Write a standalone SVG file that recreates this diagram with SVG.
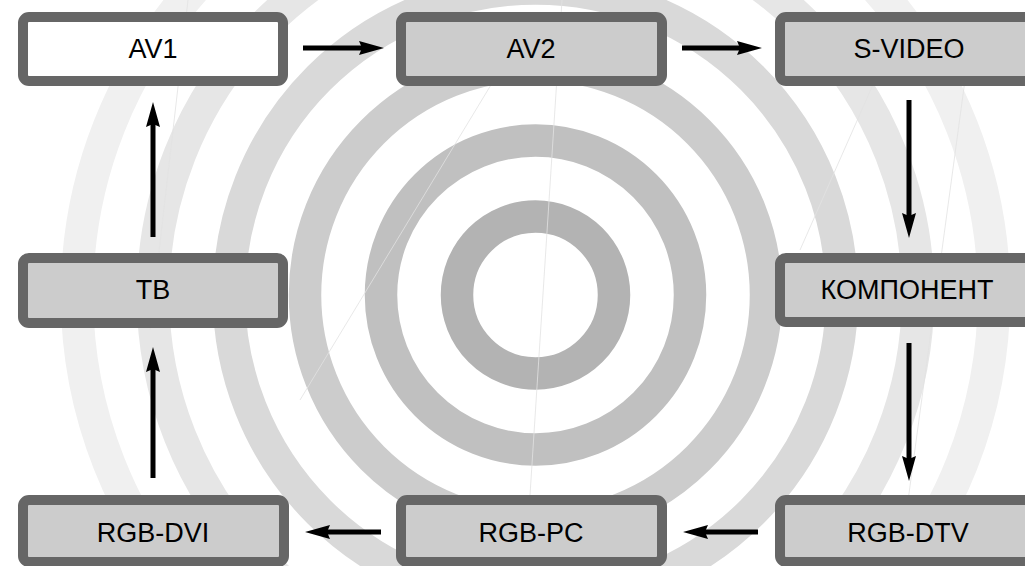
<svg xmlns="http://www.w3.org/2000/svg" width="1025" height="566" viewBox="0 0 1025 566">
  <style>
    .ring { fill: none; stroke-width: 32.5; }
    .seam { stroke: #e2e2e2; stroke-width: 0.8; fill: none; }
    .box { fill: #cccccc; stroke: #666666; stroke-width: 10; }
    .box.white { fill: #ffffff; }
    .lbl { font-family: "Liberation Sans", Arial, sans-serif; font-size: 27px; fill: #000000; text-anchor: middle; }
    .arrow { stroke: #000000; stroke-width: 5; fill: none; marker-end: url(#head); }
  </style>
  <defs>
    <marker id="head" viewBox="0 0 25 14" refX="3" refY="7" markerWidth="25" markerHeight="14" markerUnits="userSpaceOnUse" orient="auto">
      <path d="M0,0 L25,7 L0,14 L3,7 Z" fill="#000000"/>
    </marker>
  </defs>
  <rect x="0" y="0" width="1025" height="566" fill="#ffffff"/>
  <g id="background">
    <circle class="ring" cx="535.5" cy="295" r="458.5" stroke="#f0f0f0"/>
    <circle class="ring" cx="535.5" cy="295" r="382.5" stroke="#e6e6e6"/>
    <circle class="ring" cx="535.5" cy="295" r="306.5" stroke="#d9d9d9"/>
    <circle class="ring" cx="535.5" cy="295" r="230.5" stroke="#cccccc"/>
    <circle class="ring" cx="535.5" cy="295" r="154.5" stroke="#c0c0c0"/>
    <circle class="ring" cx="535.5" cy="295" r="78.5" stroke="#b3b3b3"/>
    <line class="seam" x1="562" y1="0" x2="530" y2="495"/>
    <line class="seam" x1="500" y1="70" x2="300" y2="400"/>
    <line class="seam" x1="188" y1="0" x2="150" y2="330"/>
    <line class="seam" x1="875" y1="80" x2="800" y2="250"/>
    <line class="seam" x1="965" y1="80" x2="900" y2="560"/>
  </g>
  <g id="connectors">
    <line class="arrow" x1="303" y1="48" x2="362" y2="48"/>
    <line class="arrow" x1="682" y1="48" x2="740" y2="48"/>
    <line class="arrow" x1="909" y1="100" x2="909" y2="216"/>
    <line class="arrow" x1="909" y1="343" x2="909" y2="459"/>
    <line class="arrow" x1="758" y1="532" x2="705" y2="532"/>
    <line class="arrow" x1="381" y1="532" x2="327" y2="532"/>
    <line class="arrow" x1="153" y1="478" x2="153" y2="369"/>
    <line class="arrow" x1="153" y1="237" x2="153" y2="124"/>
  </g>
  <g id="node-av1">
    <rect class="box white" x="23" y="17" width="260" height="64" rx="6"/>
    <text class="lbl" x="153" y="58">AV1</text>
  </g>
  <g id="node-av2">
    <rect class="box" x="401" y="17" width="261" height="64" rx="6"/>
    <text class="lbl" x="531" y="58">AV2</text>
  </g>
  <g id="node-svideo">
    <rect class="box" x="780" y="17" width="261" height="64" rx="6"/>
    <text class="lbl" x="909" y="58">S-VIDEO</text>
  </g>
  <g id="node-tv">
    <rect class="box" x="23" y="258" width="260" height="65" rx="6"/>
    <text class="lbl" x="153" y="299">ТВ</text>
  </g>
  <g id="node-component">
    <rect class="box" x="780" y="258" width="261" height="64" rx="6"/>
    <text class="lbl" x="907" y="299">КОМПОНЕНТ</text>
  </g>
  <g id="node-rgb-dvi">
    <rect class="box" x="23" y="500" width="261" height="62" rx="6"/>
    <text class="lbl" x="153" y="542">RGB-DVI</text>
  </g>
  <g id="node-rgb-pc">
    <rect class="box" x="401" y="500" width="261" height="62" rx="6"/>
    <text class="lbl" x="531" y="542">RGB-PC</text>
  </g>
  <g id="node-rgb-dtv">
    <rect class="box" x="780" y="500" width="261" height="62" rx="6"/>
    <text class="lbl" x="908" y="542">RGB-DTV</text>
  </g>
</svg>
